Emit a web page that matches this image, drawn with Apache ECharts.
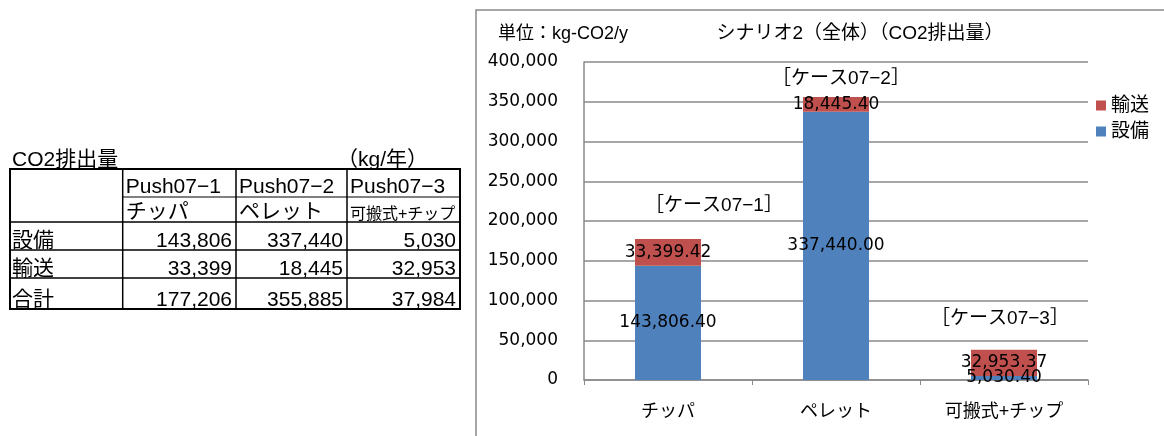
<!DOCTYPE html>
<html>
<head>
<meta charset="utf-8">
<script src="https://cdn.jsdelivr.net/npm/echarts@6/dist/echarts.min.js"></script>
<style>
  html, body { margin: 0; padding: 0; background: #fff; }
  #chart { width: 1164px; height: 436px; }
</style>
</head>
<body>
<div id="chart"></div>
<script>
// Scenario 2 CO2 emissions per case (kg-CO2/y)
const categories = ['チッパ', 'ペレット', '可搬式+チップ'];
const caseIds = ['Push07−1', 'Push07−2', 'Push07−3'];
const caseLabels = ['［ケース07−1］', '［ケース07−2］', '［ケース07−3］'];
const equipment = [143806.40, 337440.00, 5030.40];   // 設備
const transport = [33399.42, 18445.40, 32953.37];    // 輸送
const rowNames = ['設備', '輸送', '合計'];
const yMin = 0, yMax = 400000, yStep = 50000;

const NUM_FONT = "'DejaVu Sans', 'Noto Sans CJK JP', sans-serif";
const JP_FONT = "'Liberation Sans', 'Noto Sans CJK JP', sans-serif";
const fmt2 = v => v.toLocaleString('en-US', { minimumFractionDigits: 2, maximumFractionDigits: 2 });
const fmt0 = v => Math.round(v).toLocaleString('en-US');

// ---- summary table on the left ----
const colX = [10, 122.7, 236, 347, 460];
const rowY = [169, 197, 222, 250, 278, 309];
const tableFont = { fontFamily: JP_FONT, fontSize: 21, fill: '#000' };
const cellText = (x, y, text, extra) => ({
  type: 'text', x: x, y: y,
  style: Object.assign({ text: text, textVerticalAlign: 'bottom' }, tableFont, extra || {})
});
const table = [];
table.push({ type: 'rect', shape: { x: colX[0], y: rowY[0], width: colX[4] - colX[0], height: rowY[5] - rowY[0] },
  style: { fill: 'none', stroke: '#000', lineWidth: 2 } });
for (let c = 1; c < 4; c++) {
  table.push({ type: 'line', shape: { x1: colX[c], y1: rowY[0], x2: colX[c], y2: rowY[5] }, style: { stroke: '#000', lineWidth: 1.5 } });
}
table.push({ type: 'line', shape: { x1: colX[1], y1: rowY[1], x2: colX[4], y2: rowY[1] }, style: { stroke: '#000', lineWidth: 1 } });
for (let r = 2; r < 5; r++) {
  table.push({ type: 'line', shape: { x1: colX[0], y1: rowY[r], x2: colX[4], y2: rowY[r] }, style: { stroke: '#000', lineWidth: 1.5 } });
}
table.push(cellText(12, rowY[0] + 2, 'CO2排出量'));
table.push(cellText(337, rowY[0] + 2, '（kg/年）'));
const totals = equipment.map((v, i) => v + transport[i]);
const rowValues = [equipment, transport, totals];
for (let c = 0; c < 3; c++) {
  table.push(cellText(colX[c + 1] + 3, rowY[1] + 1, caseIds[c]));
  table.push(cellText(colX[c + 1] + 3, rowY[2] + 1, categories[c], c === 2 ? { fontSize: 16 } : null));
  for (let r = 0; r < 3; r++) {
    table.push(cellText(colX[c + 2] - 4, rowY[r + 3] + 2, fmt0(rowValues[r][c]), { textAlign: 'right' }));
  }
}
for (let r = 0; r < 3; r++) {
  table.push(cellText(12, rowY[r + 3] + 2, rowNames[r]));
}

// ---- chart frame, headings and case notes ----
const frame = [
  { type: 'polyline', shape: { points: [[476, 436], [476, 10], [1164, 10]] }, style: { fill: 'none', stroke: '#8a8a8a', lineWidth: 1.5 } },
  { type: 'text', x: 498, y: 34, style: { text: '単位：kg-CO2/y', fontFamily: JP_FONT, fontSize: 18, fill: '#000', textVerticalAlign: 'middle' } },
  { type: 'text', x: 860, y: 34, style: { text: 'シナリオ2（全体）（CO2排出量）', fontFamily: JP_FONT, fontSize: 19, fill: '#000', textAlign: 'center', textVerticalAlign: 'middle' } }
];
const notePos = [[714, 206], [841, 79], [1000, 319]];
const notes = caseLabels.map((t, i) => ({
  type: 'text', x: notePos[i][0], y: notePos[i][1],
  style: { text: t, fontFamily: JP_FONT, fontSize: 19, fill: '#000', textAlign: 'center', textVerticalAlign: 'middle' }
}));

const labelStyle = { show: true, position: 'inside', color: '#000', fontFamily: NUM_FONT, fontSize: 17, formatter: p => fmt2(p.value) };

const chart = echarts.init(document.getElementById('chart'), null, { renderer: 'canvas' });
chart.setOption({
  animation: false,
  backgroundColor: '#fff',
  textStyle: { fontFamily: NUM_FONT },
  grid: { left: 584, right: 76, top: 62, bottom: 56, containLabel: false },
  legend: {
    data: ['輸送', '設備'], orient: 'vertical', left: 1091, top: 91,
    itemWidth: 10, itemHeight: 10, itemGap: 7, icon: 'rect',
    textStyle: { fontFamily: JP_FONT, fontSize: 19, color: '#000' }
  },
  xAxis: {
    type: 'category', data: categories,
    axisLine: { lineStyle: { color: '#8a8a8a', width: 1.5 } },
    axisTick: { show: true, length: 5, lineStyle: { color: '#8a8a8a' } },
    axisLabel: { color: '#000', fontSize: 18, fontFamily: JP_FONT, margin: 23 }
  },
  yAxis: {
    type: 'value', min: yMin, max: yMax, interval: yStep,
    axisLine: { show: true, lineStyle: { color: '#8a8a8a', width: 1.5 } },
    axisTick: { show: false },
    splitLine: { lineStyle: { color: '#8a8a8a', width: 1.5 } },
    axisLabel: { color: '#000', fontSize: 17, fontFamily: NUM_FONT, margin: 26, formatter: v => v.toLocaleString('en-US') }
  },
  series: [
    { name: '設備', type: 'bar', stack: 'total', barWidth: 66, data: equipment, itemStyle: { color: '#4f81bd' }, label: labelStyle },
    { name: '輸送', type: 'bar', stack: 'total', barWidth: 66, data: transport, itemStyle: { color: '#c0504d' }, label: labelStyle }
  ],
  graphic: table.concat(frame, notes)
});
</script>
</body>
</html>
